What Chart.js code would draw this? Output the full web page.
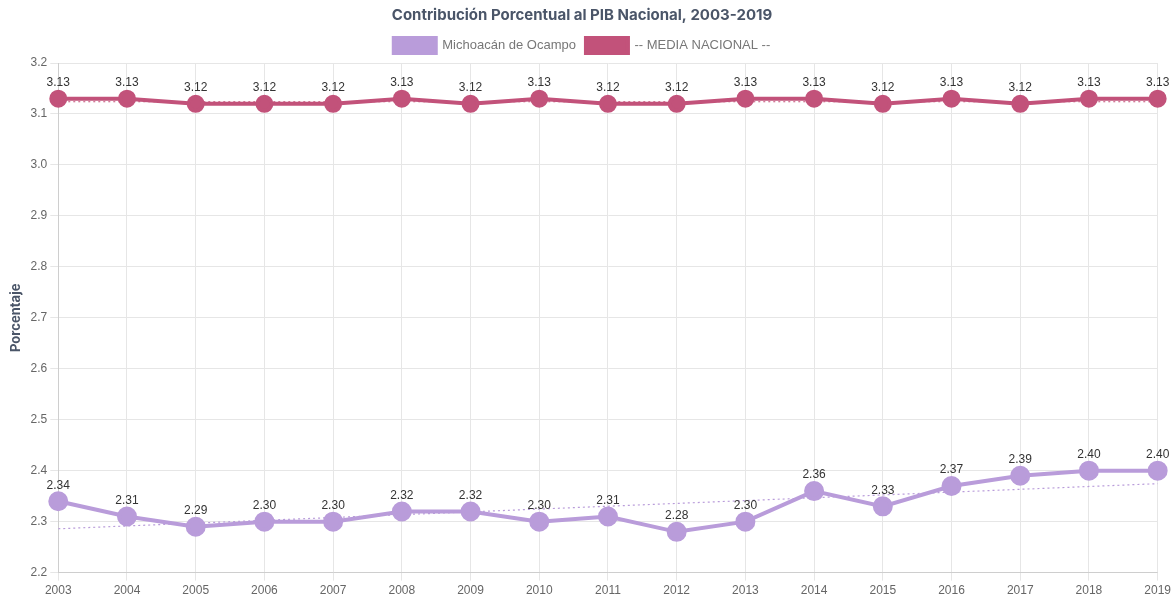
<!DOCTYPE html>
<html>
<head>
<meta charset="utf-8">
<script src="https://cdn.jsdelivr.net/npm/chart.js@4/dist/chart.umd.min.js"></script>
<style>
  html, body { margin: 0; padding: 0; background: #fff; overflow: hidden; }
  #wrap { width: 1174px; height: 601px; }
</style>
</head>
<body>
<div id="wrap"><canvas id="chart"></canvas></div>
<script>
// Years on the x axis
const years = ['2003','2004','2005','2006','2007','2008','2009','2010','2011','2012','2013','2014','2015','2016','2017','2018','2019'];

// Contribution to national GDP (%)
const michoacan = [2.34, 2.31, 2.29, 2.30, 2.30, 2.32, 2.32, 2.30, 2.31, 2.28, 2.30, 2.36, 2.33, 2.37, 2.39, 2.40, 2.40];
const media = [3.13, 3.13, 3.12, 3.12, 3.12, 3.13, 3.12, 3.13, 3.12, 3.12, 3.13, 3.13, 3.12, 3.13, 3.12, 3.13, 3.13];

// Trend lines, read at the two ends only
const trendMich = [2.286, null, null, null, null, null, null, null, null, null, null, null, null, null, null, null, 2.3745];
const trendMedia = [3.124, null, null, null, null, null, null, null, null, null, null, null, null, null, null, null, 3.124];

const purple = '#b99cda';
const pink = '#c2527a';

// draw value labels above points (no datalabels plugin available)
const valueLabels = {
  id: 'valueLabels',
  afterDatasetsDraw(chart) {
    const ctx = chart.ctx;
    ctx.save();
    ctx.font = '12px "Liberation Sans", Arial, sans-serif';
    ctx.fillStyle = '#333';
    ctx.textAlign = 'center';
    ctx.textBaseline = 'bottom';
    chart.data.datasets.forEach((ds, i) => {
      if (ds.isTrend) return;
      const meta = chart.getDatasetMeta(i);
      meta.data.forEach((pt, j) => {
        ctx.fillText(ds.data[j].toFixed(2), pt.x, pt.y - 10);
      });
    });
    ctx.restore();
  }
};

const ctx = document.getElementById('chart').getContext('2d');
new Chart(ctx, {
  type: 'line',
  data: {
    labels: years,
    datasets: [
      {label: 'Michoacán de Ocampo', data: michoacan, borderColor: purple, backgroundColor: purple,
       borderWidth: 4, pointRadius: 8, pointHoverRadius: 8, tension: 0},
      {label: '-- MEDIA NACIONAL --', data: media, borderColor: pink, backgroundColor: pink,
       borderWidth: 4, pointRadius: 7, pointHoverRadius: 7, tension: 0},
      {label: 'trend1', isTrend: true, data: trendMich, borderColor: purple, borderWidth: 1.2,
       borderDash: [2, 3], pointRadius: 0, spanGaps: true, fill: false},
      {label: 'trend2', isTrend: true, data: trendMedia, borderColor: pink, borderWidth: 1.2,
       borderDash: [2, 3], pointRadius: 0, spanGaps: true, fill: false}
    ]
  },
  options: {
    responsive: true,
    maintainAspectRatio: false,
    animation: false,
    layout: {padding: {left: 4, right: 14, top: 0, bottom: 0}},
    plugins: {
      title: {display: true, text: 'Contribución Porcentual al PIB Nacional, 2003-2019',
              color: '#4a5568', font: {family: 'Inter', size: 15, weight: 'bold'}, padding: {top: 6, bottom: 4}},
      legend: {
        labels: {color: '#777', font: {family: '"Liberation Sans", Arial', size: 13}, boxWidth: 42, boxHeight: 15,
                 filter: item => !item.text.startsWith('trend')}
      },
      tooltip: {enabled: false}
    },
    scales: {
      x: {
        grid: {color: '#e6e6e6'},
        ticks: {color: '#666', font: {family: '"Liberation Sans", Arial', size: 12}, maxRotation: 0, padding: 3}
      },
      y: {
        min: 2.2, max: 3.2,
        grid: {color: '#e6e6e6'},
        ticks: {stepSize: 0.1, color: '#666', font: {family: '"Liberation Sans", Arial', size: 12},
                callback: v => Number(v).toFixed(1)},
        title: {display: true, text: 'Porcentaje', color: '#4a5568',
                font: {family: 'Inter', size: 13, weight: 'bold'}}
      }
    }
  },
  plugins: [valueLabels]
});
</script>
</body>
</html>
